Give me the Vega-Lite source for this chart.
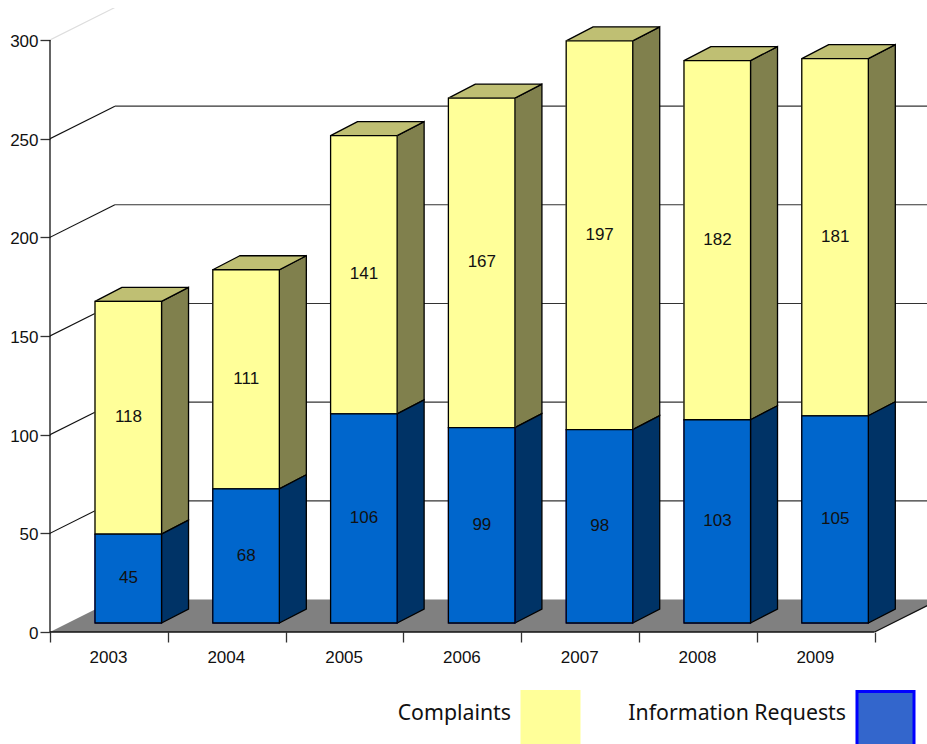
{
"$schema":"https://vega.github.io/schema/vega-lite/v6.json",
"width":877,"height":624,"autosize":"none",
"padding":{"left":50,"top":8,"right":0,"bottom":112},
"background":"white",
"config":{"view":{"stroke":null},"font":"Liberation Sans"},
"datasets":{
"bars":[
{"year":2003,"series":"Information Requests","value":45},{"year":2003,"series":"Complaints","value":118},
{"year":2004,"series":"Information Requests","value":68},{"year":2004,"series":"Complaints","value":111},
{"year":2005,"series":"Information Requests","value":106},{"year":2005,"series":"Complaints","value":141},
{"year":2006,"series":"Information Requests","value":99},{"year":2006,"series":"Complaints","value":167},
{"year":2007,"series":"Information Requests","value":98},{"year":2007,"series":"Complaints","value":197},
{"year":2008,"series":"Information Requests","value":103},{"year":2008,"series":"Complaints","value":182},
{"year":2009,"series":"Information Requests","value":105},{"year":2009,"series":"Complaints","value":181}],
"grid":[{"v":50},{"v":100},{"v":150},{"v":200},{"v":250},{"v":300}],
"floor":[{"d":0},{"d":1}],
"one":[{"a":1}]
},
"layer":[
{"data":{"name":"floor"},
 "transform":[{"calculate":"datum.d*16.47","as":"fy"},{"calculate":"datum.d*0.551","as":"fx"},{"calculate":"7+datum.d*0.551","as":"fx2"}],
 "mark":{"type":"area","orient":"horizontal","color":"#808080","clip":true},
 "encoding":{
  "y":{"field":"fy","type":"quantitative","stack":null,"scale":{"domain":[0,316.2],"nice":false,"zero":false},
   "axis":{"values":[0,50,100,150,200,250,300],"title":null,"domain":false,"grid":false,"tickSize":10,"tickColor":"#333","tickWidth":1.3,"labelFontSize":17,"labelColor":"#111","labelPadding":2,"labelOffset":1.5,"labelFont":"Liberation Sans"}},
  "x":{"field":"fx","type":"quantitative","scale":{"domain":[0,7.445],"nice":false,"zero":false},
   "axis":{"values":[0,1,2,3,4,5,6,7],"title":null,"domain":false,"grid":false,"tickSize":10,"tickColor":"#333","tickWidth":1.3,"labelFontSize":17,"labelColor":"#111","labelPadding":7,"labelOffset":58,"labelFont":"Liberation Sans","labelFlush":false,"labelOverlap":false,"labelExpr":"datum.value<7?format(datum.value+2003,'d'):''"}},
  "x2":{"field":"fx2"}
 }},
{"data":{"name":"grid"},
 "transform":[{"calculate":"datum.v+16.47","as":"vb"}],
 "layer":[
  {"mark":{"type":"rule","strokeWidth":1.1,"clip":true},
   "encoding":{
    "x":{"datum":0,"type":"quantitative","scale":{"domain":[0,7.445],"nice":false,"zero":false}},
    "x2":{"datum":0.551},
    "y":{"field":"v","type":"quantitative","scale":{"domain":[0,316.2],"nice":false,"zero":false}},
    "y2":{"field":"vb"},
    "color":{"condition":{"test":"datum.v==300","value":"#dddddd"},"value":"#111111"}}},
  {"mark":{"type":"rule","strokeWidth":1.1,"clip":true},
   "encoding":{
    "x":{"datum":0.551,"type":"quantitative","scale":{"domain":[0,7.445],"nice":false,"zero":false}},
    "x2":{"datum":7.445},
    "y":{"field":"vb","type":"quantitative","scale":{"domain":[0,316.2],"nice":false,"zero":false}},
    "color":{"condition":{"test":"datum.v==300","value":"#eeeeee"},"value":"#333333"}}}
 ]},
{"data":{"name":"one"},
 "layer":[
  {"mark":{"type":"rule","color":"#111","strokeWidth":1.3},
   "encoding":{"x":{"datum":0,"type":"quantitative","scale":{"domain":[0,7.445],"nice":false,"zero":false}},
    "y":{"datum":0,"type":"quantitative","scale":{"domain":[0,316.2],"nice":false,"zero":false}},"y2":{"datum":300}}},
  {"mark":{"type":"rule","color":"#111","strokeWidth":1.3},
   "encoding":{"x":{"datum":0,"type":"quantitative","scale":{"domain":[0,7.445],"nice":false,"zero":false}},"x2":{"datum":7},
    "y":{"datum":0,"type":"quantitative","scale":{"domain":[0,316.2],"nice":false,"zero":false}}}},
  {"mark":{"type":"rule","color":"#111","strokeWidth":1.2,"clip":true},
   "encoding":{"x":{"datum":7,"type":"quantitative","scale":{"domain":[0,7.445],"nice":false,"zero":false}},"x2":{"datum":7.551},
    "y":{"datum":0,"type":"quantitative","scale":{"domain":[0,316.2],"nice":false,"zero":false}},"y2":{"datum":16.47}}}
 ]},
{"data":{"name":"bars"},
 "transform":[
  {"stack":"value","groupby":["year"],"sort":[{"field":"series","order":"descending"}],"as":["s0","s1"]},
  {"calculate":"datum.year-2003","as":"i"},
  {"calculate":"datum.i+0.382","as":"xl"},
  {"calculate":"datum.i+0.947","as":"xr"},
  {"calculate":"datum.s0+4.56","as":"yb"},
  {"calculate":"datum.s1+4.56","as":"yt"},
  {"calculate":"(datum.yb+datum.yt)/2+0.2","as":"ym"},
  {"calculate":"datum.i+0.666","as":"xm"}
 ],
 "layer":[
  {"transform":[{"calculate":"[0,1]","as":"d"},{"flatten":["d"]},
    {"calculate":"datum.xr+datum.d*0.229","as":"sx"},
    {"calculate":"datum.yt+datum.d*7.1","as":"st"},
    {"calculate":"datum.yb+datum.d*7.1","as":"sb"},
    {"filter":"datum.series=='Complaints'"}],
   "mark":{"type":"area","orient":"vertical","color":"#80804D","stroke":"#000","strokeWidth":1.3},
   "encoding":{"x":{"field":"sx","type":"quantitative","scale":{"domain":[0,7.445],"nice":false,"zero":false}},
    "y":{"field":"st","type":"quantitative","stack":null,"scale":{"domain":[0,316.2],"nice":false,"zero":false}},
    "y2":{"field":"sb"},"detail":{"field":"year"}}},
  {"transform":[{"calculate":"[0,1]","as":"d"},{"flatten":["d"]},
    {"calculate":"datum.xr+datum.d*0.229","as":"sx"},
    {"calculate":"datum.yt+datum.d*7.1","as":"st"},
    {"calculate":"datum.yb+datum.d*7.1","as":"sb"},
    {"filter":"datum.series!='Complaints'"}],
   "mark":{"type":"area","orient":"vertical","color":"#003366","stroke":"#000","strokeWidth":1.3},
   "encoding":{"x":{"field":"sx","type":"quantitative","scale":{"domain":[0,7.445],"nice":false,"zero":false}},
    "y":{"field":"st","type":"quantitative","stack":null,"scale":{"domain":[0,316.2],"nice":false,"zero":false}},
    "y2":{"field":"sb"},"detail":{"field":"year"}}},
  {"transform":[{"filter":"datum.series=='Complaints'"},{"calculate":"[0,1]","as":"d"},{"flatten":["d"]},
    {"calculate":"datum.xl+datum.d*0.229","as":"tl"},
    {"calculate":"datum.xr+datum.d*0.229","as":"tr"},
    {"calculate":"datum.yt+datum.d*7.1","as":"ty"}],
   "mark":{"type":"area","orient":"horizontal","color":"#BFBF73","stroke":"#000","strokeWidth":1.3},
   "encoding":{"x":{"field":"tl","type":"quantitative","scale":{"domain":[0,7.445],"nice":false,"zero":false}},"x2":{"field":"tr"},
    "y":{"field":"ty","type":"quantitative","stack":null,"scale":{"domain":[0,316.2],"nice":false,"zero":false}},
    "detail":{"field":"year"}}},
  {"mark":{"type":"rect","strokeWidth":1},
   "encoding":{"x":{"field":"xl","type":"quantitative","scale":{"domain":[0,7.445],"nice":false,"zero":false}},"x2":{"field":"xr"},
    "y":{"field":"yb","type":"quantitative","scale":{"domain":[0,316.2],"nice":false,"zero":false}},"y2":{"field":"yt"},
    "fill":{"field":"series","type":"nominal",
     "scale":{"domain":["Complaints","Information Requests"],"range":["#FFFF99","#3366CC"]},
     "legend":{"title":null,"orient":"none","legendX":470,"legendY":681,"direction":"horizontal","columns":2,
      "symbolType":"square","symbolSize":3250,"symbolOpacity":1,"symbolStrokeWidth":3,
      "labelFont":"Noto Sans","labelFontSize":21.3,"labelColor":"#111","labelLimit":320,"labelAlign":"right","labelBaseline":"alphabetic","labelOffset":-70,"columnPadding":42}},
    "stroke":{"field":"series","type":"nominal",
     "scale":{"domain":["Complaints","Information Requests"],"range":["#FFFF99","#0000FF"]},
     "legend":{"title":null,"orient":"none","legendX":470,"legendY":681,"direction":"horizontal","columns":2,
      "symbolType":"square","symbolSize":3250,"symbolOpacity":1,"symbolStrokeWidth":3,
      "labelFont":"Noto Sans","labelFontSize":21.3,"labelColor":"#111","labelLimit":320,"labelAlign":"right","labelBaseline":"alphabetic","labelOffset":-70,"columnPadding":42}}}},
  {"transform":[{"filter":"datum.series=='Complaints'"}],
   "mark":{"type":"rect","color":"#FFFF99","stroke":"#000","strokeWidth":1.3},
   "encoding":{"x":{"field":"xl","type":"quantitative","scale":{"domain":[0,7.445],"nice":false,"zero":false}},"x2":{"field":"xr"},
    "y":{"field":"yb","type":"quantitative","scale":{"domain":[0,316.2],"nice":false,"zero":false}},"y2":{"field":"yt"}}},
  {"transform":[{"filter":"datum.series!='Complaints'"}],
   "mark":{"type":"rect","color":"#0066CC","stroke":"#000","strokeWidth":1.3},
   "encoding":{"x":{"field":"xl","type":"quantitative","scale":{"domain":[0,7.445],"nice":false,"zero":false}},"x2":{"field":"xr"},
    "y":{"field":"yb","type":"quantitative","scale":{"domain":[0,316.2],"nice":false,"zero":false}},"y2":{"field":"yt"}}},
  {"mark":{"type":"text","fontSize":17,"color":"#111","baseline":"middle","align":"center","font":"Liberation Sans"},
   "encoding":{"x":{"field":"xm","type":"quantitative","scale":{"domain":[0,7.445],"nice":false,"zero":false}},
    "y":{"field":"ym","type":"quantitative","scale":{"domain":[0,316.2],"nice":false,"zero":false}},
    "text":{"field":"value","type":"quantitative"}}}
 ]}
]
}
